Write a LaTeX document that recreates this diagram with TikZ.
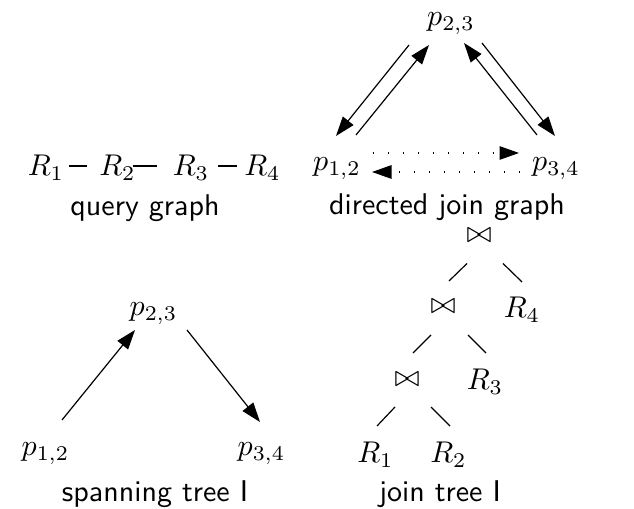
\documentclass[tikz,border=0pt]{standalone}
\usetikzlibrary{arrows.meta}
\begin{document}
\begin{tikzpicture}[x=0.3333pt, y=-0.3333pt,
		arr/.style={-{Triangle[length=6.5pt,width=4.5pt]}},
		darr/.style={arr, dash pattern=on 0.4pt off 4.6pt},
		lbl/.style={font=\sffamily, anchor=base},
		mth/.style={anchor=base}]
		\useasboundingbox (0,0) rectangle (634,509);

		% query graph
		\foreach \i/\x in {1/46, 2/117.5, 3/191, 4/262.5}
			\node[mth] (q\i) at (\x,176) {$R_\i$};
		\draw ([shift={(23,-10)}]q1.base) -- ([shift={(-30.5,-10)}]q2.base);
		\draw ([shift={(15.5,-10)}]q2.base) -- ([shift={(-34,-10)}]q3.base);
		\draw ([shift={(27,-10)}]q3.base) -- ([shift={(-25.5,-10)}]q4.base);
		\node[lbl] (qlabel) at (145,216) {query graph};

		% directed join graph
		\node[mth] (d23) at (451,26) {$p_{2,3}$};
		\node[mth] (d12) at (337,171) {$p_{1,2}$};
		\node[mth] (d34) at (556,171) {$p_{3,4}$};
		\draw[arr] ([shift={(-42,19)}]d23.base) -- ([shift={(-1,-35)}]d12.base);
		\draw[arr] ([shift={(19,-36)}]d12.base) -- ([shift={(-22,19)}]d23.base);
		\draw[arr] ([shift={(-19,-36)}]d34.base) -- ([shift={(13,17)}]d23.base);
		\draw[arr] ([shift={(31,17)}]d23.base) -- ([shift={(-1,-35)}]d34.base);
		\draw[darr] ([shift={(36,-18)}]d12.base) -- ([shift={(-37,-18)}]d34.base);
		\draw[darr] ([shift={(-36,1)}]d34.base) -- ([shift={(35,1)}]d12.base);
		\node[lbl] (dlabel) at (447,215) {directed join graph};

		% spanning tree
		\node[mth] (s23) at (153.5,316) {$p_{2,3}$};
		\node[mth] (s12) at (45.5,456) {$p_{1,2}$};
		\node[mth] (s34) at (261.5,456) {$p_{3,4}$};
		\draw[arr] ([shift={(16.5,-36)}]s12.base) -- ([shift={(-18.5,14)}]s23.base);
		\draw[arr] ([shift={(33.5,14)}]s23.base) -- ([shift={(-1.5,-34)}]s34.base);
		\node[lbl] (slabel) at (155,502) {spanning tree I};

		% join tree
		\node (j1) at (479,235.5) {$\bowtie$};
		\node (j2) at (443,307) {$\bowtie$};
		\node (j3) at (407,380) {$\bowtie$};
		\node[mth] (t4) at (522,318) {$R_4$};
		\node[mth] (t3) at (485,390) {$R_3$};
		\node[mth] (t1) at (375.5,463) {$R_1$};
		\node[mth] (t2) at (448.5,463) {$R_2$};
		\draw ([shift={(-12,28)}]j1.center) -- ([shift={(6,-26)}]j2.center);
		\draw ([shift={(24,28)}]j1.center) -- ([shift={(0,-36)}]t4.base);
		\draw ([shift={(-12,28)}]j2.center) -- ([shift={(6,-27)}]j3.center);
		\draw ([shift={(25,28)}]j2.center) -- ([shift={(1,-37)}]t3.base);
		\draw ([shift={(-12,27)}]j3.center) -- ([shift={(1.5,-37)}]t1.base);
		\draw ([shift={(24,27)}]j3.center) -- ([shift={(1.5,-37)}]t2.base);
		\node[lbl] (jlabel) at (440,502) {join tree I};
	\end{tikzpicture}
\end{document}
